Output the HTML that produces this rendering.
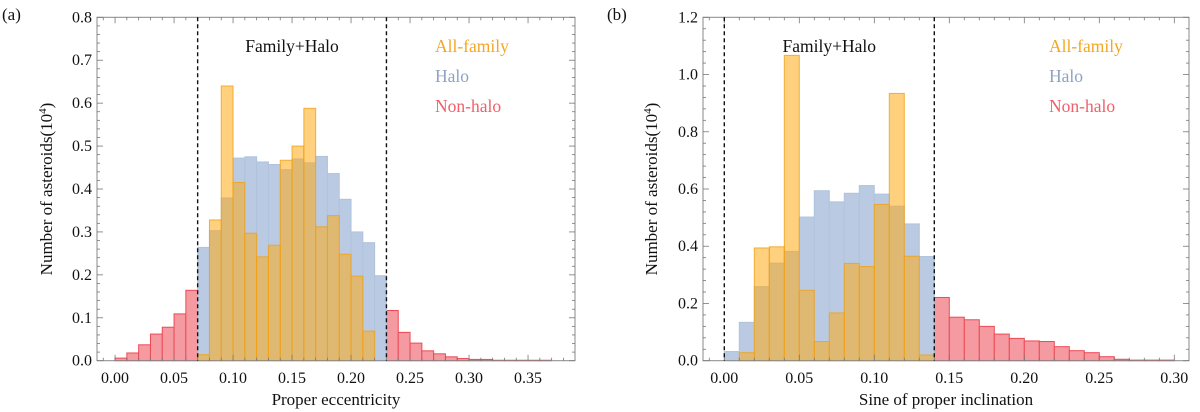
<!DOCTYPE html>
<html><head><meta charset="utf-8">
<style>
html,body{margin:0;padding:0;background:#fff;}
svg{display:block;}
svg text{font-family:"Liberation Serif","DejaVu Serif",serif;}
</style></head>
<body>
<svg id="chart" width="1200" height="412" viewBox="0 0 1200 412" xmlns="http://www.w3.org/2000/svg"></svg>
<script>
// Panel (a): proper eccentricity
const aRedBins = [0.00,0.01,0.02,0.03,0.04,0.05,0.06,0.23,0.24,0.25,0.26,0.27,0.28,0.29,0.30,0.31,0.32,0.33,0.34,0.35,0.36];
const aRedVals = [0.006,0.018,0.037,0.062,0.078,0.109,0.164,0.117,0.066,0.041,0.023,0.016,0.009,0.005,0.003,0.003,0.001,0.001,0.001,0.001,0.001];
const aBlueBins = [0.07,0.08,0.09,0.10,0.11,0.12,0.13,0.14,0.15,0.16,0.17,0.18,0.19,0.20,0.21,0.22];
const aBlueVals = [0.264,0.303,0.379,0.472,0.475,0.463,0.457,0.445,0.470,0.461,0.476,0.436,0.376,0.300,0.275,0.198];
const aOrangeBins = [0.07,0.08,0.09,0.10,0.11,0.12,0.13,0.14,0.15,0.16,0.17,0.18,0.19,0.20,0.21];
const aOrangeVals = [0.014,0.328,0.640,0.415,0.297,0.242,0.269,0.467,0.500,0.588,0.312,0.338,0.248,0.197,0.069];
const aXTicks = [0.00,0.05,0.10,0.15,0.20,0.25,0.30,0.35];
const aYTicks = [0.0,0.1,0.2,0.3,0.4,0.5,0.6,0.7,0.8];
const aDashes = [0.07,0.23];
// Panel (b): sine of proper inclination
const bRedBins = [0.14,0.15,0.16,0.17,0.18,0.19,0.20,0.21,0.22,0.23,0.24,0.25,0.26,0.27,0.28,0.29];
const bRedVals = [0.221,0.152,0.143,0.120,0.093,0.078,0.069,0.067,0.049,0.035,0.028,0.014,0.005,0.002,0.002,0.002];
const bBlueBins = [0.00,0.01,0.02,0.03,0.04,0.05,0.06,0.07,0.08,0.09,0.10,0.11,0.12,0.13];
const bBlueVals = [0.032,0.134,0.259,0.341,0.382,0.502,0.594,0.555,0.585,0.612,0.582,0.540,0.478,0.364];
const bOrangeBins = [0.01,0.02,0.03,0.04,0.05,0.06,0.07,0.08,0.09,0.10,0.11,0.12,0.13];
const bOrangeVals = [0.028,0.394,0.398,1.067,0.246,0.067,0.167,0.340,0.329,0.546,0.934,0.365,0.020];
const bXTicks = [0.00,0.05,0.10,0.15,0.20,0.25,0.30];
const bYTicks = [0.0,0.2,0.4,0.6,0.8,1.0,1.2];
const bDashes = [0.00,0.14];
const binW = 0.01;

const NS='http://www.w3.org/2000/svg';
const svg=document.getElementById('chart');
const SERIF='Liberation Serif, DejaVu Serif, serif';
function mk(tag,attrs,parent){const e=document.createElementNS(NS,tag);for(const k in attrs)e.setAttribute(k,attrs[k]);if(tag==='text')e.setAttribute('font-family',SERIF);(parent||svg).appendChild(e);return e;}

function panel(cfg){
  const g=mk('g',{});
  
  
  const L=cfg.left,R=cfg.right,T=17.3,B=360.7;
  const X=v=>L+(v-cfg.xmin)/(cfg.xmax-cfg.xmin)*(R-L);
  const Y=v=>B-(v/cfg.ymax)*(B-T);
  function bars(bins,vals,fill,stroke,name){
    bins.forEach((b,i)=>{
      const r=mk('rect',{x:X(b),y:Y(vals[i]),width:X(b+binW)-X(b),height:B-Y(vals[i]),fill:fill,stroke:stroke,'stroke-width':1},g);
      
      
    });
  }
  bars(cfg.red[0],cfg.red[1],'#f59aa1','#ec4a55','non-halo');
  bars(cfg.blue[0],cfg.blue[1],'#b9cae2','#b0c3de','halo');
  bars(cfg.orange[0],cfg.orange[1],'rgba(255,170,20,0.55)','rgba(240,160,20,0.8)','all-family');
  const f=mk('rect',{x:L,y:T,width:R-L,height:B-T,fill:'none',stroke:'#888','stroke-width':1},g);
  
  
  for(let v=Math.ceil(cfg.xmin*100)/100; v<=cfg.xmax+1e-9; v+=0.01){
    const x=X(v);const major=Math.abs(Math.round(v*100)%5)===0;const len=major?6:3;
    mk('line',{x1:x,y1:B,x2:x,y2:B-len,stroke:'#777','stroke-width':0.8},g);
    mk('line',{x1:x,y1:T,x2:x,y2:T+len,stroke:'#777','stroke-width':0.8},g);
  }
  cfg.xticks.forEach(v=>{
    const t=mk('text',{x:X(v),y:383,'font-size':16,'text-anchor':'middle',fill:'#111'},g);
    t.textContent=v.toFixed(2);
    
    
  });
  const ys=cfg.yticks[1]-cfg.yticks[0];
  for(let i=0;i<=(cfg.yticks.length-1)*5;i++){
    const v=i*ys/5;const y=Y(v);const len=(i%5===0)?6:3;
    mk('line',{x1:L,y1:y,x2:L+len,y2:y,stroke:'#777','stroke-width':0.8},g);
    mk('line',{x1:R,y1:y,x2:R-len,y2:y,stroke:'#777','stroke-width':0.8},g);
  }
  cfg.yticks.forEach(v=>{
    const t=mk('text',{x:L-5,y:Y(v)+5,'font-size':16,'text-anchor':'end',fill:'#111'},g);
    t.textContent=v.toFixed(1);
    
    
  });
  cfg.dashes.forEach(v=>{
    const d=mk('line',{x1:X(v),y1:T,x2:X(v),y2:B,stroke:'#111','stroke-width':1.4,'stroke-dasharray':'4,3'},g);
    
    
  });
  const fh=mk('text',{x:(X(cfg.dashes[0])+X(cfg.dashes[1]))/2,y:52,'font-size':17.5,'text-anchor':'middle',fill:'#111'},g);
  fh.textContent='Family+Halo';
  
  
  const leg=[['All-family','#f5a623'],['Halo','#8fa2c4'],['Non-halo','#f0606a']];
  leg.forEach((l,i)=>{
    const t=mk('text',{x:cfg.legX,y:52+i*30,'font-size':17.5,fill:l[1]},g);
    t.textContent=l[0];
    
    
  });
  const xt=mk('text',{x:(L+R)/2,y:405,'font-size':17,'text-anchor':'middle',fill:'#111'},g);
  xt.textContent=cfg.xtitle;
  
  
  const yt=mk('text',{x:0,y:0,'font-size':17,'text-anchor':'middle',fill:'#111',transform:`translate(${cfg.ytitleX},${(T+B)/2}) rotate(-90)`},g);
  yt.innerHTML='Number of asteroids(10<tspan font-size="11" dy="-6">4</tspan><tspan dy="6">)</tspan>';
  
  
  const pl=mk('text',{x:cfg.letterX,y:20,'font-size':17,fill:'#111'},g);
  pl.textContent=cfg.letter;
  
  
}
panel({name:'panel-a-eccentricity',left:97,right:575,xmin:-0.0153,xmax:0.3898,ymax:0.8,
  red:[aRedBins,aRedVals],blue:[aBlueBins,aBlueVals],orange:[aOrangeBins,aOrangeVals],
  xticks:aXTicks,yticks:aYTicks,dashes:aDashes,legX:435,xtitle:'Proper eccentricity',ytitleX:52,letter:'(a)',letterX:2});
panel({name:'panel-b-inclination',left:703,right:1189,xmin:-0.0142,xmax:0.3098,ymax:1.2,
  red:[bRedBins,bRedVals],blue:[bBlueBins,bBlueVals],orange:[bOrangeBins,bOrangeVals],
  xticks:bXTicks,yticks:bYTicks,dashes:bDashes,legX:1049,xtitle:'Sine of proper inclination',ytitleX:657,letter:'(b)',letterX:607});
</script>
</body></html>
